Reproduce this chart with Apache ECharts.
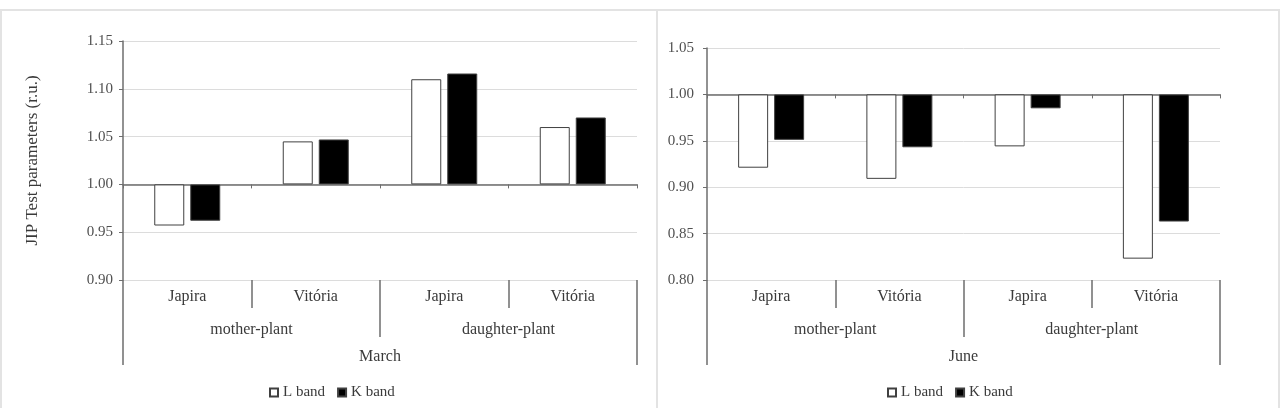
<!DOCTYPE html>
<html>
<head>
<meta charset="utf-8">
<script src="https://cdn.jsdelivr.net/npm/echarts@6/dist/echarts.min.js"></script>
<style>
  html, body { margin: 0; padding: 0; background: #fff; }
  #chart { width: 1280px; height: 408px; }
</style>
</head>
<body>
<div id="chart"></div>
<script>
// categories
var cultivars = ['Japira', 'Vitória', 'Japira', 'Vitória'];
var plants = ['mother-plant', 'daughter-plant'];
var months = ['March', 'June'];
var bands = ['L band', 'K band'];

// values (relative units, 1.00 = control)
var marchL = [0.957, 1.045, 1.110, 1.060];
var marchK = [0.962, 1.047, 1.116, 1.070];
var juneL = [0.921, 0.909, 0.944, 0.823];
var juneK = [0.951, 0.943, 0.985, 0.863];

var serif = 'Liberation Serif';
var axisGray = '#6e6e6e';

// bars are drawn relative to 1.00
function rel(arr) { return arr.map(function (v) { return +(v - 1).toFixed(3); }); }

function levelAxis(gridIndex, data, tickLen, margin) {
  return {
    type: 'category', gridIndex: gridIndex, position: 'bottom', data: data,
    axisLine: { show: false, onZero: false },
    axisTick: { show: true, interval: 0, length: tickLen, lineStyle: { color: axisGray, width: 1.5 } },
    axisLabel: { interval: 0, margin: margin, fontFamily: serif, fontSize: 16, color: '#3a3a3a' },
    splitLine: { show: false }
  };
}

function barAxis(gridIndex) {
  return {
    type: 'category', gridIndex: gridIndex, position: 'bottom', data: cultivars,
    axisLine: { show: true, onZero: true, lineStyle: { color: axisGray, width: 1.5 } },
    axisTick: { show: true, interval: 0, length: 4, lineStyle: { color: axisGray } },
    axisLabel: { show: false },
    splitLine: { show: false }
  };
}

function valueAxis(gridIndex, min, max, margin, name) {
  return {
    type: 'value', gridIndex: gridIndex, min: min, max: max, interval: 0.05,
    name: name || '', nameLocation: 'middle', nameGap: 82,
    nameTextStyle: { fontFamily: serif, fontSize: 17, color: '#3a3a3a' },
    axisLine: { show: true, lineStyle: { color: axisGray, width: 1.5 } },
    axisTick: { show: true, length: 4, lineStyle: { color: axisGray } },
    axisLabel: {
      margin: margin, fontFamily: serif, fontSize: 15, color: '#505050',
      formatter: function (v) { return (v + 1).toFixed(2); }
    },
    splitLine: { show: true, lineStyle: { color: '#dcdcdc', width: 1 } }
  };
}

function barSeries(name, xIdx, yIdx, data, fill) {
  return {
    name: name, type: 'bar', xAxisIndex: xIdx, yAxisIndex: yIdx,
    data: rel(data), barWidth: 30, barGap: '20%',
    itemStyle: { color: fill, borderColor: '#404040', borderWidth: 1 },
    emphasis: { disabled: true }
  };
}

function legendAt(left) {
  return {
    data: bands, left: left, top: 380, icon: 'rect', itemWidth: 8, itemHeight: 8,
    itemGap: 12, textStyle: { fontFamily: serif, fontSize: 15, color: '#3a3a3a' }
  };
}

var chart = echarts.init(document.getElementById('chart'));
chart.setOption({
  backgroundColor: '#fff',
  animation: false,
  graphic: [
    { type: 'rect', shape: { x: 1, y: 10, width: 656, height: 410 }, style: { fill: 'none', stroke: '#e3e3e3', lineWidth: 2 } },
    { type: 'rect', shape: { x: 657, y: 10, width: 622, height: 410 }, style: { fill: 'none', stroke: '#e3e3e3', lineWidth: 2 } }
  ],
  grid: [
    { left: 123, top: 41, width: 514, height: 239 },
    { left: 707, top: 48, width: 513, height: 232 }
  ],
  xAxis: [
    barAxis(0),
    levelAxis(0, cultivars, 28, 9),
    levelAxis(0, plants, 57, 42),
    levelAxis(0, [months[0]], 85, 69),
    barAxis(1),
    levelAxis(1, cultivars, 28, 9),
    levelAxis(1, plants, 57, 42),
    levelAxis(1, [months[1]], 85, 69)
  ],
  yAxis: [
    valueAxis(0, -0.10, 0.15, 10, 'JIP Test parameters (r.u.)'),
    valueAxis(1, -0.20, 0.05, 13)
  ],
  legend: [legendAt(264), legendAt(882)],
  series: [
    barSeries(bands[0], 0, 0, marchL, '#ffffff'),
    barSeries(bands[1], 0, 0, marchK, '#000000'),
    barSeries(bands[0], 4, 1, juneL, '#ffffff'),
    barSeries(bands[1], 4, 1, juneK, '#000000')
  ]
});
</script>
</body>
</html>
